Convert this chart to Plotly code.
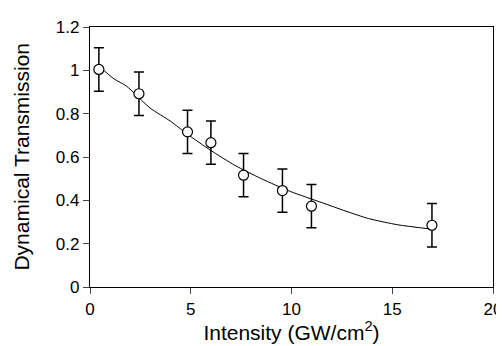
import plotly.graph_objects as go

intensity = [0.44, 2.43, 4.84, 6.0, 7.62, 9.55, 10.99, 16.97]
transmission = [1.004, 0.892, 0.716, 0.666, 0.516, 0.445, 0.373, 0.285]
errors = [0.1, 0.1, 0.1, 0.1, 0.1, 0.1, 0.1, 0.1]

fit_x = [0.44, 1.2, 1.8, 2.98, 4.0, 4.84, 6.0, 7.18, 8.5, 9.94, 11.55, 12.7, 13.82, 15.28, 16.97]
fit_y = [1.02, 0.96, 0.928, 0.826, 0.765, 0.705, 0.63, 0.562, 0.50, 0.441, 0.388, 0.35, 0.316, 0.287, 0.267]

fig = go.Figure()
fig.add_trace(go.Scatter(x=fit_x, y=fit_y, mode="lines",
                         line=dict(color="black", width=1, shape="spline", smoothing=0.6),
                         showlegend=False, hoverinfo="skip"))
fig.add_trace(go.Scatter(x=intensity, y=transmission, mode="markers",
                         marker=dict(symbol="circle", size=10, color="white",
                                     line=dict(color="black", width=1.2)),
                         error_y=dict(type="data", array=errors, visible=True,
                                      color="black", thickness=1.5, width=5),
                         showlegend=False))

font = "Liberation Sans, Arial, sans-serif"
plot_w = 504 - 82 - 10
fig.update_layout(
    width=504, height=346,
    margin=dict(l=82, r=10, t=14, b=67),
    plot_bgcolor="white", paper_bgcolor="white",
    font=dict(family=font, color="black", size=17),
    xaxis=dict(range=[0, 20], tickvals=[0, 5, 10, 15, 20], ticks="outside", ticklen=6,
               showline=True, linecolor="black", linewidth=1.2, mirror=True,
               showgrid=False, zeroline=False,
               title=dict(text="Intensity (GW/cm<sup>2</sup>)", font=dict(size=21), standoff=6)),
    yaxis=dict(range=[0, 1.2], tickvals=[0, 0.2, 0.4, 0.6, 0.8, 1, 1.2],
               ticktext=["0", "0.2", "0.4", "0.6", "0.8", "1", "1.2"],
               ticks="outside", ticklen=6,
               showline=True, linecolor="black", linewidth=1.2, mirror=True,
               showgrid=False, zeroline=False),
    annotations=[dict(text="Dynamical Transmission", textangle=-90,
                      xref="paper", yref="paper", x=-(82 - 11) / plot_w, y=0.5,
                      xanchor="center", yanchor="middle", showarrow=False,
                      font=dict(size=21, family=font, color="black"))],
)
fig.write_html("out.html")
